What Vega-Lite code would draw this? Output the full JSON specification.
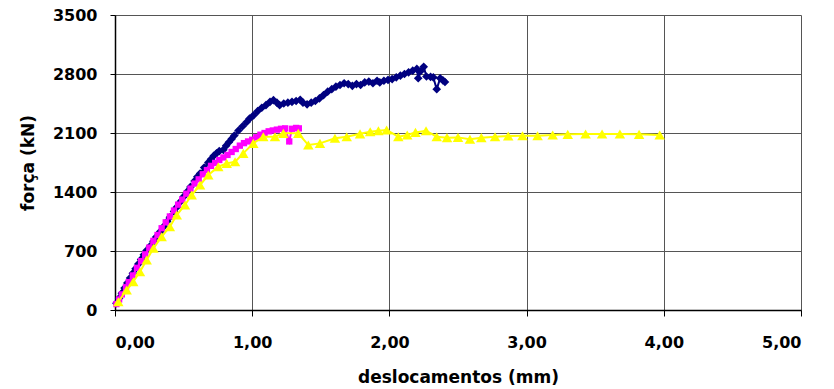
{
  "$schema": "https://vega.github.io/schema/vega-lite/v6.json",
  "width": 686,
  "height": 295,
  "autosize": {"type": "none"},
  "padding": {"left": 115, "top": 15, "right": 33, "bottom": 79},
  "background": "white",
  "config": {
    "view": {"stroke": null},
    "font": "DejaVu Sans",
    "axis": {
      "labelFont": "DejaVu Sans", "labelFontWeight": "bold", "labelFontSize": 16, "labelColor": "#000",
      "titleFont": "DejaVu Sans", "titleFontWeight": "bold", "titleFontSize": 17, "titleColor": "#000",
      "gridColor": "#555", "gridOpacity": 1, "gridWidth": 1,
      "domainColor": "#000", "domainWidth": 1.5, "tickColor": "#000", "tickWidth": 1
    }
  },
  "data": {"values": [
    {"s":"A","x":0.01,"y":80},{"s":"A","x":0.03,"y":140},{"s":"A","x":0.05,"y":200},{"s":"A","x":0.07,"y":260},{"s":"A","x":0.09,"y":320},{"s":"A","x":0.11,"y":380},{"s":"A","x":0.13,"y":435},{"s":"A","x":0.15,"y":490},{"s":"A","x":0.17,"y":545},{"s":"A","x":0.19,"y":600},{"s":"A","x":0.21,"y":655},{"s":"A","x":0.23,"y":705},{"s":"A","x":0.255,"y":755},{"s":"A","x":0.28,"y":815},{"s":"A","x":0.30,"y":865},{"s":"A","x":0.33,"y":930},{"s":"A","x":0.355,"y":990},{"s":"A","x":0.38,"y":1050},{"s":"A","x":0.40,"y":1100},{"s":"A","x":0.43,"y":1170},{"s":"A","x":0.45,"y":1220},{"s":"A","x":0.48,"y":1290},{"s":"A","x":0.50,"y":1345},{"s":"A","x":0.53,"y":1410},{"s":"A","x":0.55,"y":1460},{"s":"A","x":0.58,"y":1530},{"s":"A","x":0.60,"y":1580},{"s":"A","x":0.62,"y":1620},{"s":"A","x":0.65,"y":1690},{"s":"A","x":0.68,"y":1750},{"s":"A","x":0.70,"y":1790},{"s":"A","x":0.72,"y":1830},{"s":"A","x":0.74,"y":1860},{"s":"A","x":0.76,"y":1885},{"s":"A","x":0.79,"y":1900},{"s":"A","x":0.81,"y":1950},{"s":"A","x":0.83,"y":1990},{"s":"A","x":0.85,"y":2030},{"s":"A","x":0.87,"y":2070},{"s":"A","x":0.90,"y":2130},{"s":"A","x":0.93,"y":2180},{"s":"A","x":0.96,"y":2230},{"s":"A","x":0.98,"y":2270},{"s":"A","x":1.01,"y":2310},{"s":"A","x":1.04,"y":2360},{"s":"A","x":1.07,"y":2400},{"s":"A","x":1.10,"y":2430},{"s":"A","x":1.13,"y":2470},{"s":"A","x":1.155,"y":2490},{"s":"A","x":1.18,"y":2460},{"s":"A","x":1.20,"y":2430},{"s":"A","x":1.23,"y":2450},{"s":"A","x":1.26,"y":2460},{"s":"A","x":1.29,"y":2470},{"s":"A","x":1.32,"y":2480},{"s":"A","x":1.35,"y":2495},{"s":"A","x":1.37,"y":2460},{"s":"A","x":1.40,"y":2440},{"s":"A","x":1.43,"y":2460},{"s":"A","x":1.46,"y":2480},{"s":"A","x":1.49,"y":2510},{"s":"A","x":1.52,"y":2550},{"s":"A","x":1.55,"y":2590},{"s":"A","x":1.58,"y":2620},{"s":"A","x":1.61,"y":2650},{"s":"A","x":1.64,"y":2670},{"s":"A","x":1.67,"y":2690},{"s":"A","x":1.70,"y":2680},{"s":"A","x":1.73,"y":2660},{"s":"A","x":1.76,"y":2680},{"s":"A","x":1.79,"y":2670},{"s":"A","x":1.82,"y":2700},{"s":"A","x":1.85,"y":2710},{"s":"A","x":1.88,"y":2690},{"s":"A","x":1.91,"y":2720},{"s":"A","x":1.93,"y":2700},{"s":"A","x":1.96,"y":2720},{"s":"A","x":1.99,"y":2730},{"s":"A","x":2.02,"y":2740},{"s":"A","x":2.05,"y":2760},{"s":"A","x":2.08,"y":2780},{"s":"A","x":2.11,"y":2800},{"s":"A","x":2.14,"y":2820},{"s":"A","x":2.17,"y":2840},{"s":"A","x":2.20,"y":2860},{"s":"A","x":2.21,"y":2750},{"s":"A","x":2.225,"y":2830},{"s":"A","x":2.25,"y":2885},{"s":"A","x":2.27,"y":2770},{"s":"A","x":2.30,"y":2765},{"s":"A","x":2.32,"y":2760},{"s":"A","x":2.345,"y":2620},{"s":"A","x":2.37,"y":2750},{"s":"A","x":2.39,"y":2725},{"s":"A","x":2.405,"y":2705},
    {"s":"B","x":0.01,"y":70},{"s":"B","x":0.03,"y":125},{"s":"B","x":0.05,"y":185},{"s":"B","x":0.08,"y":270},{"s":"B","x":0.10,"y":330},{"s":"B","x":0.13,"y":410},{"s":"B","x":0.16,"y":500},{"s":"B","x":0.19,"y":580},{"s":"B","x":0.22,"y":660},{"s":"B","x":0.25,"y":740},{"s":"B","x":0.28,"y":820},{"s":"B","x":0.31,"y":890},{"s":"B","x":0.34,"y":970},{"s":"B","x":0.37,"y":1040},{"s":"B","x":0.40,"y":1110},{"s":"B","x":0.43,"y":1180},{"s":"B","x":0.46,"y":1250},{"s":"B","x":0.49,"y":1310},{"s":"B","x":0.52,"y":1380},{"s":"B","x":0.55,"y":1440},{"s":"B","x":0.58,"y":1500},{"s":"B","x":0.61,"y":1550},{"s":"B","x":0.64,"y":1610},{"s":"B","x":0.67,"y":1660},{"s":"B","x":0.70,"y":1710},{"s":"B","x":0.73,"y":1745},{"s":"B","x":0.76,"y":1780},{"s":"B","x":0.79,"y":1810},{"s":"B","x":0.82,"y":1840},{"s":"B","x":0.85,"y":1875},{"s":"B","x":0.88,"y":1910},{"s":"B","x":0.91,"y":1950},{"s":"B","x":0.94,"y":1980},{"s":"B","x":0.97,"y":2000},{"s":"B","x":1.00,"y":2020},{"s":"B","x":1.03,"y":2050},{"s":"B","x":1.06,"y":2080},{"s":"B","x":1.09,"y":2100},{"s":"B","x":1.12,"y":2120},{"s":"B","x":1.15,"y":2130},{"s":"B","x":1.18,"y":2140},{"s":"B","x":1.21,"y":2150},{"s":"B","x":1.24,"y":2155},{"s":"B","x":1.27,"y":2000},{"s":"B","x":1.29,"y":2150},{"s":"B","x":1.32,"y":2160},{"s":"B","x":1.34,"y":2155},
    {"s":"C","x":0.024,"y":98},{"s":"C","x":0.085,"y":237},{"s":"C","x":0.133,"y":336},{"s":"C","x":0.182,"y":454},{"s":"C","x":0.231,"y":593},{"s":"C","x":0.28,"y":732},{"s":"C","x":0.34,"y":870},{"s":"C","x":0.40,"y":988},{"s":"C","x":0.45,"y":1127},{"s":"C","x":0.51,"y":1246},{"s":"C","x":0.559,"y":1364},{"s":"C","x":0.62,"y":1483},{"s":"C","x":0.68,"y":1601},{"s":"C","x":0.753,"y":1700},{"s":"C","x":0.814,"y":1740},{"s":"C","x":0.875,"y":1759},{"s":"C","x":0.935,"y":1858},{"s":"C","x":1.008,"y":1977},{"s":"C","x":1.081,"y":2056},{"s":"C","x":1.166,"y":2056},{"s":"C","x":1.227,"y":2096},{"s":"C","x":1.336,"y":2096},{"s":"C","x":1.409,"y":1957},{"s":"C","x":1.494,"y":1977},{"s":"C","x":1.603,"y":2037},{"s":"C","x":1.689,"y":2056},{"s":"C","x":1.786,"y":2090},{"s":"C","x":1.86,"y":2115},{"s":"C","x":1.92,"y":2127},{"s":"C","x":1.98,"y":2135},{"s":"C","x":2.065,"y":2056},{"s":"C","x":2.13,"y":2076},{"s":"C","x":2.19,"y":2107},{"s":"C","x":2.267,"y":2127},{"s":"C","x":2.345,"y":2056},{"s":"C","x":2.42,"y":2045},{"s":"C","x":2.50,"y":2048},{"s":"C","x":2.587,"y":2025},{"s":"C","x":2.67,"y":2045},{"s":"C","x":2.77,"y":2056},{"s":"C","x":2.866,"y":2064},{"s":"C","x":2.97,"y":2068},{"s":"C","x":3.08,"y":2068},{"s":"C","x":3.19,"y":2076},{"s":"C","x":3.30,"y":2084},{"s":"C","x":3.43,"y":2088},{"s":"C","x":3.55,"y":2088},{"s":"C","x":3.68,"y":2088},{"s":"C","x":3.82,"y":2084},{"s":"C","x":3.97,"y":2076}
  ]},
  "encoding": {
    "x": {"field": "x", "type": "quantitative", "scale": {"domain": [0, 5], "nice": false},
      "axis": {"values": [0,1,2,3,4,5], "labelExpr": "replace(format(datum.value, '.2f'), '.', ',')", "title": "deslocamentos (mm)", "tickSize": 6, "labelPadding": 18, "titlePadding": 19, "grid": true}},
    "y": {"field": "y", "type": "quantitative", "scale": {"domain": [0, 3500], "nice": false},
      "axis": {"values": [0,700,1400,2100,2800,3500], "format": "d", "title": "força (kN)", "tickSize": 5, "labelPadding": 13, "titlePadding": 15, "grid": true}},
    "color": {"field": "s", "type": "nominal", "scale": {"domain": ["A","B","C"], "range": ["#000080","#FF00FF","#FFFF00"]}, "legend": null}
  },
  "layer": [
    {"transform": [{"filter": "datum.s === 'A'"}], "mark": {"type": "line", "strokeWidth": 2}},
    {"transform": [{"filter": "datum.s === 'A'"}], "mark": {"type": "point", "filled": true, "opacity": 1, "shape": "diamond", "size": 75}},
    {"transform": [{"filter": "datum.s === 'B'"}], "mark": {"type": "line", "strokeWidth": 2}},
    {"transform": [{"filter": "datum.s === 'B'"}], "mark": {"type": "point", "filled": true, "opacity": 1, "shape": "square", "size": 40}},
    {"transform": [{"filter": "datum.s === 'C'"}], "mark": {"type": "line", "strokeWidth": 2}},
    {"transform": [{"filter": "datum.s === 'C'"}], "mark": {"type": "point", "filled": true, "opacity": 1, "shape": "triangle-up", "size": 110}}
  ]
}
